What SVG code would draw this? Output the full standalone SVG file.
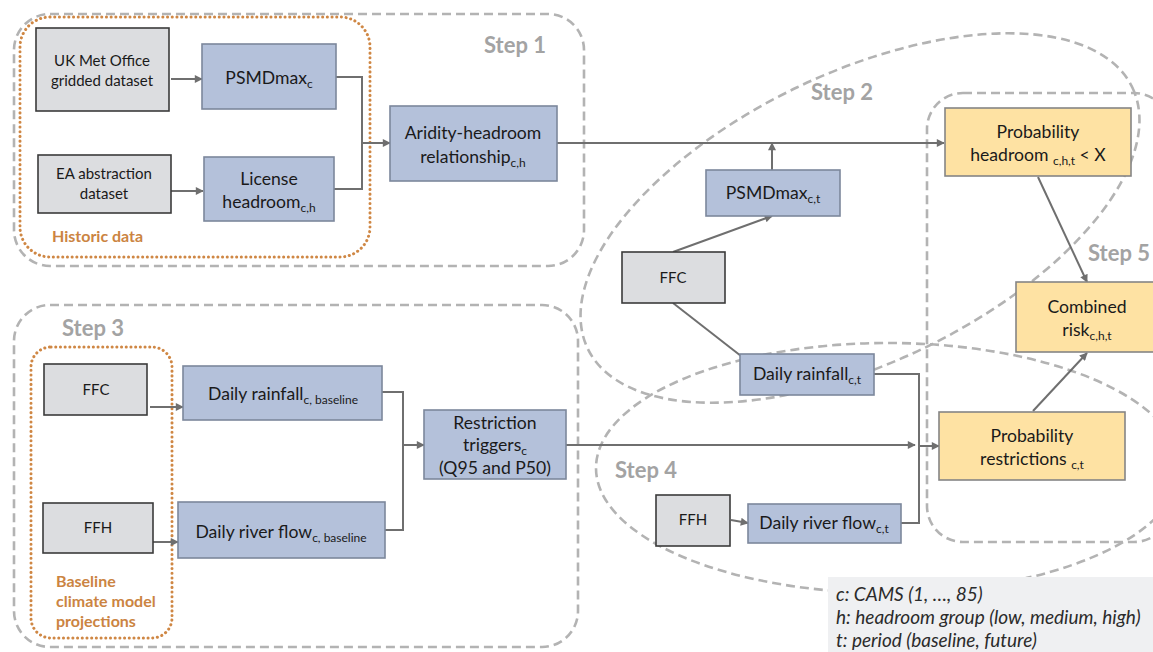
<svg xmlns="http://www.w3.org/2000/svg" width="1153" height="652" viewBox="0 0 1153 652">
  <defs>
    <marker id="arrow" viewBox="0 0 10 10" refX="9" refY="5" markerWidth="9" markerHeight="8" markerUnits="userSpaceOnUse" orient="auto">
      <path d="M0,0 L10,5 L0,10 z" fill="#6f6f6f"/>
    </marker>
    <style>
      text { font-family: Lato, "Liberation Sans", sans-serif; fill: #1a1a1a; }
      .t { font-size: 17.6px; text-anchor: middle; }
      .ts { font-size: 15px; text-anchor: middle; }
      .sub { font-size: 12px; }
      .step { font-size: 22px; font-weight: bold; fill: #a3a3a3; }
      .hist { font-size: 16px; font-weight: bold; fill: #cb8442; }
      .legend { font-size: 19px; font-style: italic; fill: #2b2b2b; }
      .zone { fill: none; stroke: #b3b3b3; stroke-width: 2.6; stroke-dasharray: 9 5; }
      .dots { fill: none; stroke: #cf8744; stroke-width: 3; stroke-dasharray: 0.1 4.6; stroke-linecap: round; }
      .src { fill: #dcdde0; stroke: #3b3b3b; stroke-width: 1.6; }
      .proc { fill: #b4c1da; stroke: #7c879c; stroke-width: 1.6; }
      .out { fill: #fee2a3; stroke: #858585; stroke-width: 1.6; }
      .link { fill: none; stroke: #6f6f6f; stroke-width: 2; }
    </style>
  </defs>

  <!-- step zones -->
  <g id="zones">
    <rect class="zone" x="14" y="14" width="570" height="252" rx="36"/>
    <rect class="zone" x="14" y="305" width="564" height="342" rx="36"/>
    <ellipse class="zone" cx="860" cy="218" rx="302" ry="145" transform="rotate(-25.6 860 218)"/>
    <ellipse class="zone" cx="888" cy="468" rx="292" ry="125"/>
    <rect class="zone" x="927" y="93" width="243" height="449" rx="36"/>
    <rect class="dots" x="20" y="17" width="350" height="240" rx="30"/>
    <rect class="dots" x="31" y="347" width="141" height="291" rx="20"/>
  </g>

  <g id="zone-labels">
    <text class="step" x="484" y="53">Step 1</text>
    <text class="step" x="811" y="100">Step 2</text>
    <text class="step" x="62" y="336">Step 3</text>
    <text class="step" x="615" y="478">Step 4</text>
    <text class="step" x="1088" y="261">Step 5</text>
    <text class="hist" x="52" y="242">Historic data</text>
    <text class="hist" x="56" y="587">Baseline</text>
    <text class="hist" x="56" y="607">climate model</text>
    <text class="hist" x="56" y="627">projections</text>
  </g>

  <!-- connectors -->
  <g id="connectors">
    <line class="link" x1="171" y1="79" x2="202" y2="79" marker-end="url(#arrow)"/>
    <line class="link" x1="170" y1="191" x2="203" y2="191" marker-end="url(#arrow)"/>
    <polyline class="link" points="336,77 362,77 362,189 334,189"/>
    <line class="link" x1="362" y1="143" x2="390" y2="143" marker-end="url(#arrow)"/>
    <line class="link" x1="557" y1="143" x2="944" y2="143" marker-end="url(#arrow)"/>
    <line class="link" x1="772" y1="170" x2="772" y2="143" marker-end="url(#arrow)"/>
    <line class="link" x1="673" y1="252" x2="772" y2="216" marker-end="url(#arrow)"/>
    <line class="link" x1="673" y1="303" x2="741" y2="356"/>
    <line class="link" x1="1038" y1="177" x2="1087" y2="282" marker-end="url(#arrow)"/>
    <line class="link" x1="1033" y1="411" x2="1087" y2="353" marker-end="url(#arrow)"/>
    <polyline class="link" points="874,374 919,374 919,523 901,523"/>
    <line class="link" x1="919" y1="446" x2="939" y2="446" marker-end="url(#arrow)"/>
    <line class="link" x1="566" y1="445" x2="915" y2="445" marker-end="url(#arrow)"/>
    <line class="link" x1="731" y1="520" x2="748" y2="523" marker-end="url(#arrow)"/>
    <line class="link" x1="150" y1="407" x2="183" y2="407" marker-end="url(#arrow)"/>
    <line class="link" x1="153" y1="542" x2="178" y2="542" marker-end="url(#arrow)"/>
    <polyline class="link" points="382,392 403,392 403,530 385,530"/>
    <line class="link" x1="403" y1="445" x2="424" y2="445" marker-end="url(#arrow)"/>
  </g>

  <!-- step 1 -->
  <g id="met-office">
    <rect class="src" x="36" y="28" width="133" height="83"/>
    <text class="ts" x="102" y="66">UK Met Office</text>
    <text class="ts" x="102" y="86">gridded dataset</text>
  </g>
  <g id="ea-abstraction">
    <rect class="src" x="38" y="155" width="133" height="58"/>
    <text class="ts" x="104" y="179">EA abstraction</text>
    <text class="ts" x="104" y="199">dataset</text>
  </g>
  <g id="psmdmax-c">
    <rect class="proc" x="202" y="44" width="134" height="65"/>
    <text class="t" x="269" y="84">PSMDmax<tspan class="sub" dy="4">c</tspan></text>
  </g>
  <g id="license-headroom">
    <rect class="proc" x="204" y="157" width="130" height="64"/>
    <text class="t" x="269" y="185">License</text>
    <text class="t" x="269" y="208">headroom<tspan class="sub" dy="4">c,h</tspan></text>
  </g>
  <g id="aridity-headroom">
    <rect class="proc" x="390" y="106" width="167" height="75"/>
    <text class="t" x="473" y="139">Aridity-headroom</text>
    <text class="t" x="473" y="163">relationship<tspan class="sub" dy="4">c,h</tspan></text>
  </g>

  <!-- step 2 -->
  <g id="psmdmax-ct">
    <rect class="proc" x="706" y="170" width="134" height="46"/>
    <text class="t" x="773" y="199">PSMDmax<tspan class="sub" dy="4">c,t</tspan></text>
  </g>
  <g id="ffc-future">
    <rect class="src" x="622" y="252" width="103" height="51"/>
    <text class="ts" x="673" y="283">FFC</text>
  </g>
  <g id="rainfall-ct">
    <rect class="proc" x="740" y="354" width="134" height="41"/>
    <text class="t" x="807" y="380">Daily rainfall<tspan class="sub" dy="4">c,t</tspan></text>
  </g>

  <!-- step 3 -->
  <g id="ffc-baseline">
    <rect class="src" x="44" y="364" width="103" height="51"/>
    <text class="ts" x="96" y="395">FFC</text>
  </g>
  <g id="ffh-baseline">
    <rect class="src" x="43" y="503" width="110" height="50"/>
    <text class="ts" x="98" y="533">FFH</text>
  </g>
  <g id="rainfall-baseline">
    <rect class="proc" x="183" y="366" width="199" height="54"/>
    <text class="t" x="283" y="400">Daily rainfall<tspan class="sub" dy="4">c, baseline</tspan></text>
  </g>
  <g id="riverflow-baseline">
    <rect class="proc" x="178" y="502" width="207" height="56"/>
    <text class="t" x="281" y="538">Daily river flow<tspan class="sub" dy="4">c, baseline</tspan></text>
  </g>
  <g id="restriction-triggers">
    <rect class="proc" x="424" y="410" width="142" height="69"/>
    <text class="t" x="495" y="429">Restriction</text>
    <text class="t" x="495" y="451">triggers<tspan class="sub" dy="4">c</tspan></text>
    <text class="t" x="495" y="474">(Q95 and P50)</text>
  </g>

  <!-- step 4 -->
  <g id="ffh-future">
    <rect class="src" x="656" y="495" width="74" height="51"/>
    <text class="ts" x="693" y="525">FFH</text>
  </g>
  <g id="riverflow-ct">
    <rect class="proc" x="748" y="504" width="153" height="39"/>
    <text class="t" x="824" y="529">Daily river flow<tspan class="sub" dy="4">c,t</tspan></text>
  </g>

  <!-- step 5 -->
  <g id="prob-headroom">
    <rect class="out" x="945" y="108" width="186" height="68"/>
    <text class="t" x="1038" y="138">Probability</text>
    <text class="t" x="1038" y="161">headroom <tspan class="sub" dy="4">c,h,t</tspan><tspan dy="-4"> &lt; X</tspan></text>
  </g>
  <g id="combined-risk">
    <rect class="out" x="1016" y="282" width="145" height="70"/>
    <text class="t" x="1087" y="313">Combined</text>
    <text class="t" x="1087" y="336">risk<tspan class="sub" dy="4">c,h,t</tspan></text>
  </g>
  <g id="prob-restrictions">
    <rect class="out" x="939" y="412" width="186" height="68"/>
    <text class="t" x="1032" y="442">Probability</text>
    <text class="t" x="1032" y="465">restrictions <tspan class="sub" dy="4">c,t</tspan></text>
  </g>

  <!-- index legend -->
  <g id="legend">
    <rect x="828" y="577" width="330" height="80" fill="#eff0f2"/>
    <text class="legend" x="836" y="601">c: CAMS (1, …, 85)</text>
    <text class="legend" x="836" y="624">h: headroom group (low, medium, high)</text>
    <text class="legend" x="836" y="647">t: period (baseline, future)</text>
  </g>
</svg>
